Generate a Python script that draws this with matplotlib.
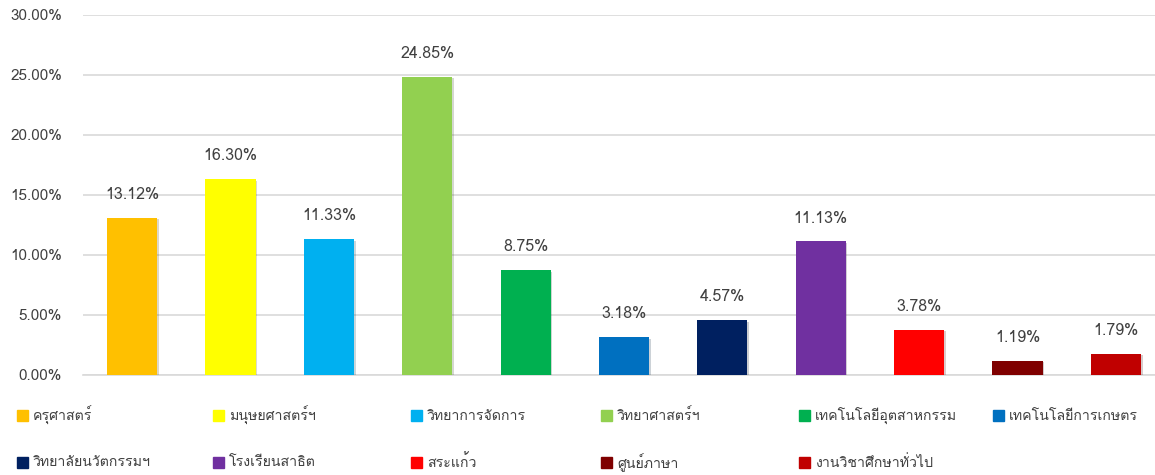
import matplotlib
matplotlib.use("Agg")
import matplotlib.pyplot as plt
from matplotlib import font_manager as fm
from matplotlib.patches import Rectangle
import matplotlib.patheffects as pe
from matplotlib.ticker import FuncFormatter

categories = ["ครุศาสตร์", "มนุษยศาสตร์ฯ", "วิทยาการจัดการ", "วิทยาศาสตร์ฯ",
              "เทคโนโลยีอุตสาหกรรม", "เทคโนโลยีการเกษตร", "วิทยาลัยนวัตกรรมฯ",
              "โรงเรียนสาธิต", "สระแก้ว", "ศูนย์ภาษา", "งานวิชาศึกษาทั่วไป"]
values = [13.12, 16.30, 11.33, 24.85, 8.75, 3.18, 4.57, 11.13, 3.78, 1.19, 1.79]
colors = ["#FFC000", "#FFFF00", "#00B0F0", "#92D050", "#00B050", "#0070C0",
          "#002060", "#7030A0", "#FF0000", "#7F0000", "#C00000"]
yticks = [0, 5, 10, 15, 20, 25, 30]

# find a font with Thai glyphs
thai_font = None
try:
    from fontTools.ttLib import TTFont
    for f in fm.fontManager.ttflist:
        try:
            tt = TTFont(f.fname, fontNumber=0, lazy=True)
            cmap = tt.getBestCmap()
            if cmap and ord("ก") in cmap and ord("ศ") in cmap:
                thai_font = f.name
                break
        except Exception:
            pass
except Exception:
    pass
fams = ([thai_font] if thai_font else []) + ["DejaVu Sans"]
plt.rcParams["font.family"] = fams

W, H = 1155, 475
fig = plt.figure(figsize=(W / 100, H / 100), dpi=100)
left, right, bottom, top = 83, 1165, 375, 15
ax = fig.add_axes([left / W, (H - bottom) / H, (right - left) / W, (bottom - top) / H])

x = list(range(len(values)))
bars = ax.bar(x, values, width=0.51, color=colors, zorder=3)
for b in bars:
    b.set_path_effects([pe.SimplePatchShadow(offset=(1.2, -1.2), alpha=0.2), pe.Normal()])

txt = "#404040"
for xi, v in zip(x, values):
    ax.annotate(f"{v:.2f}%", (xi, v), xytext=(0, 16.5), textcoords="offset points",
                ha="center", va="center", fontsize=11.5, color=txt)

ax.set_xlim(-0.5, len(values) - 0.5)
ax.set_ylim(0, 30)
ax.set_yticks(yticks)
ax.yaxis.set_major_formatter(FuncFormatter(lambda v, p: f"{v:.2f}%"))
ax.set_xticks([])
ax.grid(axis="y", color="#D9D9D9", linewidth=1.2, zorder=0)
for s in ["top", "right", "left"]:
    ax.spines[s].set_visible(False)
ax.spines["bottom"].set_color("#D9D9D9")
ax.spines["bottom"].set_linewidth(1.2)
ax.tick_params(axis="y", length=0, pad=15, labelsize=11, labelcolor=txt)

# legend: manual placement
col_x = [17, 213, 411, 601, 799, 993]
row_y = [415.5, 462.5]
sq = 11
for i, (name, c) in enumerate(zip(categories, colors)):
    r, cidx = divmod(i, 6)
    px, py = col_x[cidx], row_y[r]
    fig.add_artist(Rectangle((px / W, (H - py - sq / 2) / H), sq / W, sq / H,
                             transform=fig.transFigure, color=c))
    fig.text((px + sq + 5) / W, (H - py) / H, name, ha="left", va="center",
             fontsize=10.2, color=txt)

fig.savefig("out.png", dpi=100)
